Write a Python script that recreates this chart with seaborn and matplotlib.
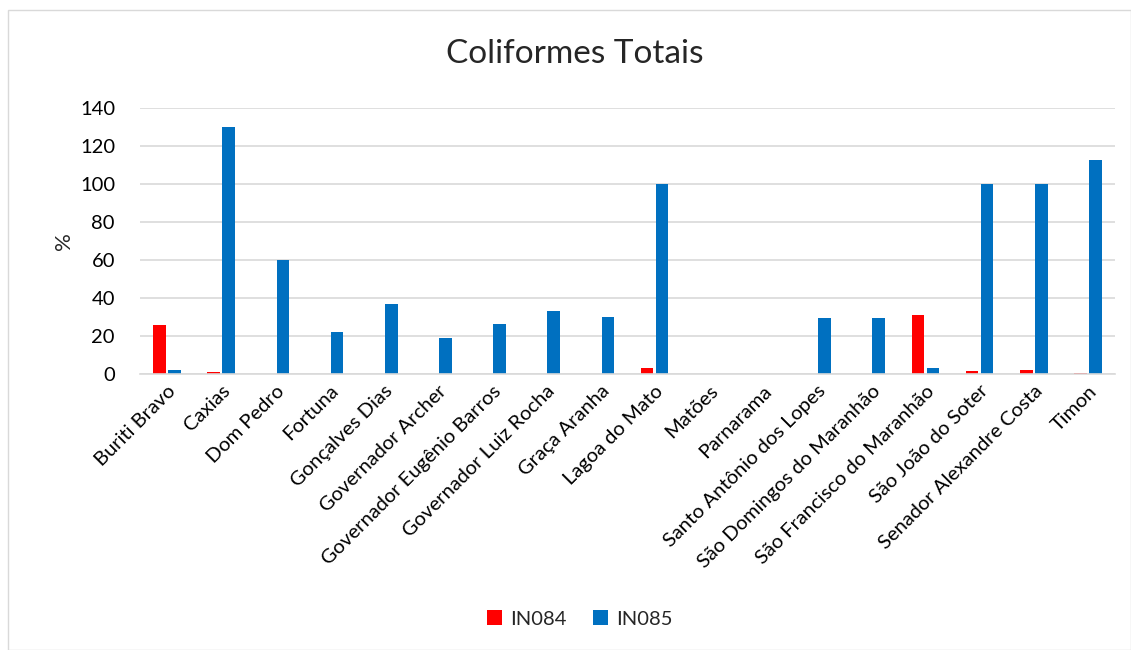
import matplotlib
matplotlib.use("Agg")
import matplotlib.pyplot as plt
import seaborn as sns
import pandas as pd
from matplotlib.patches import Rectangle

categories = ["Buriti Bravo", "Caxias", "Dom Pedro", "Fortuna", "Gonçalves Dias",
              "Governador Archer", "Governador Eugênio Barros", "Governador Luiz Rocha",
              "Graça Aranha", "Lagoa do Mato", "Matões", "Parnarama",
              "Santo Antônio dos Lopes", "São Domingos do Maranhão",
              "São Francisco do Maranhão", "São João do Soter",
              "Senador Alexandre Costa", "Timon"]
in084 = [25.8, 1.2, 0, 0, 0, 0, 0, 0, 0, 3.0, 0, 0, 0, 0, 31.0, 1.5, 2.0, 0.3]
in085 = [2.0, 130.0, 60.0, 22.0, 37.0, 19.0, 26.3, 33.0, 30.0, 100.0, 0, 0,
         29.5, 29.5, 3.0, 100.0, 100.0, 112.5]
series_names = ["IN084", "IN085"]
colors = {"IN084": "#FF0000", "IN085": "#0070C0"}

df = pd.DataFrame({
    "Municipio": categories * 2,
    "Valor": in084 + in085,
    "Serie": [series_names[0]] * len(categories) + [series_names[1]] * len(categories),
})

sns.set_theme(style="white")
plt.rcParams["font.family"] = ["Lato", "DejaVu Sans"]

fig = plt.figure(figsize=(11.31, 6.5), dpi=100)
ax = fig.add_axes([140/1131, 1-374/650, (1115-140)/1131, (374-108)/650])

sns.barplot(data=df, x="Municipio", y="Valor", hue="Serie", palette=colors,
            width=0.55, gap=0.15, saturation=1, linewidth=0, ax=ax, legend=True)

ax.set_ylim(0, 140)
ax.set_yticks(range(0, 141, 20))
ax.yaxis.grid(True, color="#d9d9d9", linewidth=1.2)
ax.set_axisbelow(True)
for s in ["top", "right", "left"]:
    ax.spines[s].set_visible(False)
ax.spines["bottom"].set_color("#d9d9d9")
ax.spines["bottom"].set_linewidth(1.2)
ax.tick_params(axis="both", length=0, labelsize=14.5, colors="#000000")
ax.tick_params(axis="y", pad=18)
plt.setp(ax.get_xticklabels(), rotation=45, ha="right", rotation_mode="anchor")
ax.tick_params(axis="x", pad=6)
ax.set_xlabel("")
ax.set_ylabel("%", fontsize=16, labelpad=4)

fig.text(575/1131, 1-54/650, "Coliformes Totais", ha="center", va="center", fontsize=24)

ax.legend(loc="center", bbox_to_anchor=(580/1131, 1-619/650), bbox_transform=fig.transFigure,
          ncol=2, frameon=False, fontsize=14.5, handlelength=0.75, handleheight=0.75,
          handletextpad=0.4, columnspacing=1.3, title=None)

fig.patches.append(Rectangle((8/1131, 0), 1 - 8/1131, 1 - 10/650, transform=fig.transFigure,
                             fill=False, edgecolor="#d9d9d9", linewidth=1))

fig.savefig("out.png", dpi=100)
